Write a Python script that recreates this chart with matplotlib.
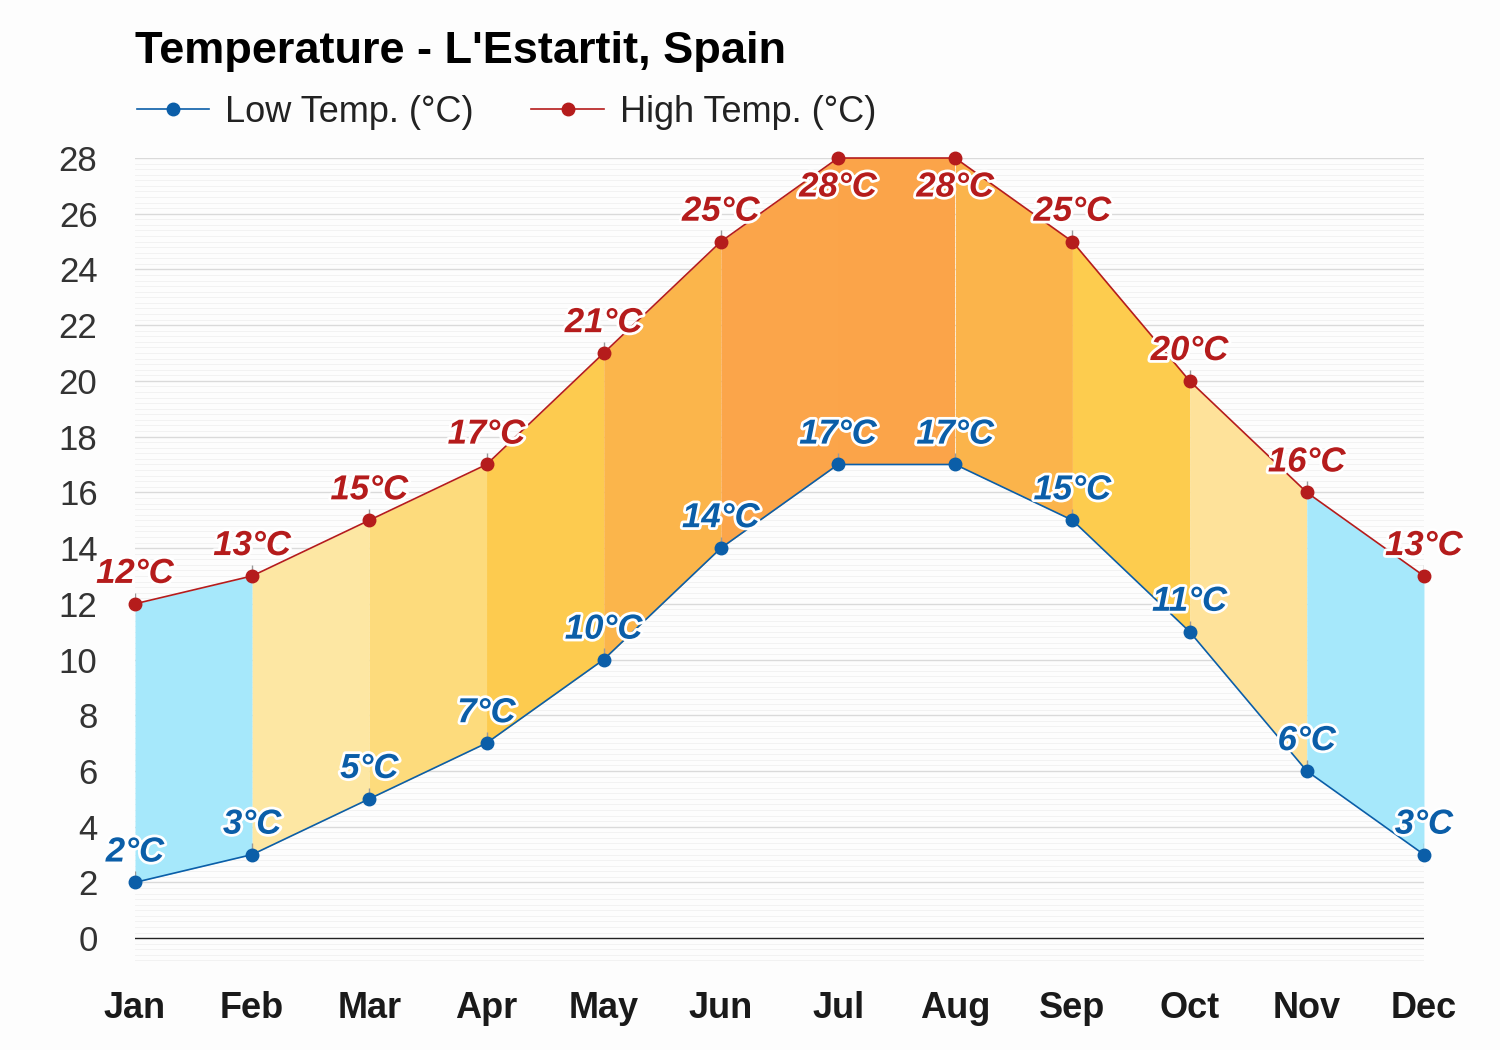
import matplotlib
matplotlib.use("Agg")
import matplotlib.pyplot as plt
import matplotlib.patheffects as pe
import numpy as np

plt.rcParams['font.family'] = ['Liberation Sans', 'DejaVu Sans']

months = ["Jan", "Feb", "Mar", "Apr", "May", "Jun", "Jul", "Aug", "Sep", "Oct", "Nov", "Dec"]
low = [2, 3, 5, 7, 10, 14, 17, 17, 15, 11, 6, 3]
high = [12, 13, 15, 17, 21, 25, 28, 28, 25, 20, 16, 13]
# colour of the band between month i and i+1
seg_colors = ["#a6e8fb", "#fde7a3", "#fddb7c", "#fdcb4f", "#fbb54b", "#fba54a",
              "#fba449", "#fbb44b", "#fdcc4e", "#fee29a", "#a6e8fb"]

low_col = "#0b5ea8"
high_col = "#b51c1c"

fig = plt.figure(figsize=(15, 10.5), dpi=100, facecolor="#fdfdfd")
ax = fig.add_axes([0.09, 0.08, 0.8593, 0.7695])
ax.set_facecolor("#fdfdfd")

x = np.arange(len(months))

# faint minor grid + major grid
for yv in np.arange(-1, 28.01, 0.2):
    ax.axhline(yv, color="#f0f0f0", lw=0.6, zorder=0)
for yv in range(2, 29, 2):
    ax.axhline(yv, color="#dadada", lw=1.0, zorder=0)
ax.axhline(0, color="#222222", lw=1.0, zorder=1)

for i in range(len(months) - 1):
    ax.fill_between(x[i:i + 2], low[i:i + 2], high[i:i + 2], color=seg_colors[i],
                    lw=0, zorder=2)

# little tick marks above each point
ax.vlines(x, np.array(low), np.array(low) + 0.4, color="#999999", lw=1, zorder=3)
ax.vlines(x, np.array(high), np.array(high) + 0.4, color="#999999", lw=1, zorder=3)

ax.plot(x, low, color=low_col, lw=1.2, marker="o", ms=9, zorder=4, clip_on=False,
        label="Low Temp. (°C)")
ax.plot(x, high, color=high_col, lw=1.2, marker="o", ms=9, zorder=4, clip_on=False,
        label="High Temp. (°C)")

stroke = [pe.withStroke(linewidth=4, foreground="white")]
for i in range(len(months)):
    ax.annotate(f"{low[i]}°C", (x[i], low[i]), xytext=(0, 10), textcoords="offset points",
                ha="center", va="bottom", fontsize=25, fontweight="bold", fontstyle="italic",
                color=low_col, path_effects=stroke, zorder=5)
    off = -9 if high[i] == max(high) else 10
    va = "top" if off < 0 else "bottom"
    ax.annotate(f"{high[i]}°C", (x[i], high[i]), xytext=(0, off), textcoords="offset points",
                ha="center", va=va, fontsize=25, fontweight="bold", fontstyle="italic",
                color=high_col, path_effects=stroke, zorder=5)

ax.set_xlim(0, len(months) - 1)
ax.set_ylim(-1, 28)
ax.set_yticks(range(0, 29, 2))
ax.set_xticks(x)
ax.set_xticklabels(months, fontsize=26, fontweight="bold", color="#1a1a1a")
ax.tick_params(axis="y", labelsize=25, labelcolor="#333333", length=0, pad=27)
ax.tick_params(axis="x", length=0, pad=18)
for s in ax.spines.values():
    s.set_visible(False)

fig.text(0.09, 0.951, "Temperature - L'Estartit, Spain", fontsize=32.5, fontweight="bold",
         ha="left", va="center", color="black")
ax.legend(loc="lower left", bbox_to_anchor=(-0.024, 0.995), ncol=2, frameon=False,
          fontsize=26, handlelength=2.0, columnspacing=1.6, handletextpad=0.45,
          labelcolor="#222222")

fig.savefig("out.png", dpi=100, facecolor=fig.get_facecolor())
